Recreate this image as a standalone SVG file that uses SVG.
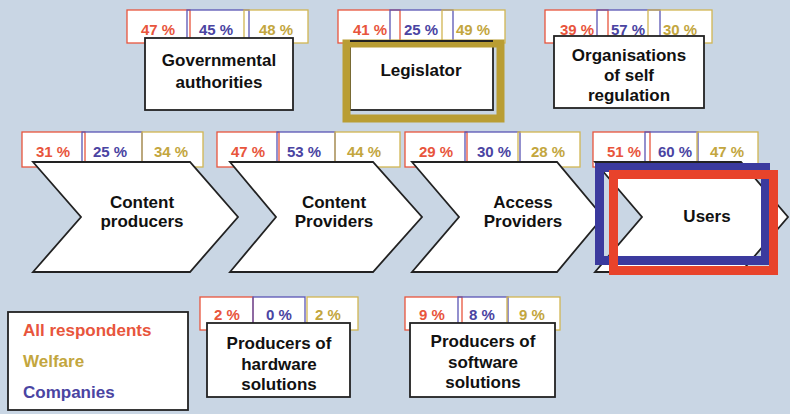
<svg xmlns="http://www.w3.org/2000/svg" width="790" height="414" viewBox="0 0 790 414">
<style>
text{font-family:"Liberation Sans",Arial,sans-serif;font-weight:bold}
.lbl{font-size:17px;fill:#111;text-anchor:middle}
.pct{font-size:15px;text-anchor:middle}
.box{fill:#fff;stroke:#222;stroke-width:1.8}
.chev{fill:#fff;stroke:#222;stroke-width:1.8;stroke-linejoin:miter}
.bg{fill:#fff}
.pr{fill:none;stroke:#e8553c;stroke-width:1.3}
.pb{fill:none;stroke:#5a55b4;stroke-width:1.3}
.pg{fill:none;stroke:#d2b552;stroke-width:1.3}
.tr{fill:#e8553c}
.tb{fill:#4a44a2}
.tg{fill:#c3a63e}
</style>
<rect x="0" y="0" width="790" height="414" fill="#c9d6e4"/>

<g id="governmental">
<rect class="bg" x="127" y="10" width="181" height="33"/>
<rect class="pr" x="127" y="10" width="63" height="33"/>
<rect class="pb" x="187" y="10" width="62" height="33"/>
<rect class="pg" x="244" y="10" width="64" height="33"/>
<text class="pct tr" x="158" y="35">47 %</text>
<text class="pct tb" x="216" y="35">45 %</text>
<text class="pct tg" x="276" y="35">48 %</text>
<rect class="box" x="145" y="38" width="148" height="72"/>
<text class="lbl" x="219" y="66">Governmental</text>
<text class="lbl" x="219" y="88">authorities</text>
</g>

<g id="legislator">
<rect class="bg" x="338" y="10" width="167" height="33"/>
<rect class="pr" x="338" y="10" width="62" height="33"/>
<rect class="pb" x="390" y="10" width="63" height="33"/>
<rect class="pg" x="442" y="10" width="63" height="33"/>
<text class="pct tr" x="370" y="35">41 %</text>
<text class="pct tb" x="421" y="35">25 %</text>
<text class="pct tg" x="473" y="35">49 %</text>
<rect class="box" x="350" y="41" width="143" height="69"/>
<rect x="346.5" y="43.5" width="154" height="75" fill="none" stroke="#b99d33" stroke-width="8"/>
<line x1="350" y1="41" x2="493" y2="41" stroke="#222" stroke-width="1.8"/>
<text class="lbl" x="421" y="76">Legislator</text>
</g>

<g id="self-regulation">
<rect class="bg" x="545" y="10" width="167" height="33"/>
<rect class="pr" x="545" y="10" width="63" height="33"/>
<rect class="pb" x="597" y="10" width="63" height="33"/>
<rect class="pg" x="648" y="10" width="64" height="33"/>
<text class="pct tr" x="577" y="35">39 %</text>
<text class="pct tb" x="628" y="35">57 %</text>
<text class="pct tg" x="680" y="35">30 %</text>
<rect class="box" x="554" y="36" width="150" height="72"/>
<text class="lbl" x="629" y="61">Organisations</text>
<text class="lbl" x="629" y="81">of self</text>
<text class="lbl" x="629" y="101">regulation</text>
</g>

<g id="content-producers">
<rect class="bg" x="22" y="132" width="181" height="35"/>
<rect class="pr" x="22" y="132" width="63" height="35"/>
<rect class="pb" x="82" y="132" width="60" height="35"/>
<rect class="pg" x="142" y="132" width="61" height="35"/>
<text class="pct tr" x="53" y="157">31 %</text>
<text class="pct tb" x="110" y="157">25 %</text>
<text class="pct tg" x="171" y="157">34 %</text>
<polygon class="chev" points="33,162 190,162 238,217 190,272 33,272 81,217"/>
<text class="lbl" x="142" y="208">Content</text>
<text class="lbl" x="142" y="227">producers</text>
</g>

<g id="content-providers">
<rect class="bg" x="217" y="132" width="183" height="35"/>
<rect class="pr" x="217" y="132" width="62" height="35"/>
<rect class="pb" x="277" y="132" width="58" height="35"/>
<rect class="pg" x="335" y="132" width="65" height="35"/>
<text class="pct tr" x="248" y="157">47 %</text>
<text class="pct tb" x="304" y="157">53 %</text>
<text class="pct tg" x="364" y="157">44 %</text>
<polygon class="chev" points="230,162 373,162 422,217 373,272 230,272 276,217"/>
<text class="lbl" x="334" y="208">Content</text>
<text class="lbl" x="334" y="227">Providers</text>
</g>

<g id="access-providers">
<rect class="bg" x="405" y="132" width="175" height="35"/>
<rect class="pr" x="405" y="132" width="62" height="35"/>
<rect class="pb" x="465" y="132" width="55" height="35"/>
<rect class="pg" x="518" y="132" width="62" height="35"/>
<text class="pct tr" x="436" y="157">29 %</text>
<text class="pct tb" x="494" y="157">30 %</text>
<text class="pct tg" x="548" y="157">28 %</text>
<polygon class="chev" points="412,162 557,162 603,217 557,272 412,272 459,217"/>
<text class="lbl" x="523" y="208">Access</text>
<text class="lbl" x="523" y="227">Providers</text>
</g>

<g id="users">
<rect class="bg" x="593" y="132" width="165" height="35"/>
<rect class="pr" x="593" y="132" width="57" height="35"/>
<rect class="pb" x="645" y="132" width="53" height="35"/>
<rect class="pg" x="697" y="132" width="61" height="35"/>
<text class="pct tr" x="624" y="157">51 %</text>
<text class="pct tb" x="675" y="157">60 %</text>
<text class="pct tg" x="727" y="157">47 %</text>
<polygon class="chev" points="595,162 741,162 788,217 741,272 595,272 642,217"/>
<rect x="599.5" y="167.5" width="166" height="93" fill="none" stroke="#3b3a9e" stroke-width="9"/>
<rect x="613.5" y="174.5" width="160" height="96" fill="none" stroke="#e8432b" stroke-width="9"/>
<text class="lbl" x="707" y="222">Users</text>
</g>

<g id="legend">
<rect class="box" x="8" y="312" width="180" height="98"/>
<text x="23" y="336" style="font-size:17px" class="tr">All respondents</text>
<text x="23" y="367" style="font-size:17px" class="tg">Welfare</text>
<text x="23" y="398" style="font-size:17px" class="tb">Companies</text>
</g>

<g id="hardware-producers">
<rect class="bg" x="200" y="297" width="158" height="33"/>
<rect class="pr" x="200" y="297" width="53" height="33"/>
<rect class="pb" x="253" y="297" width="52" height="33"/>
<rect class="pg" x="307" y="297" width="51" height="33"/>
<text class="pct tr" x="227" y="320">2 %</text>
<text class="pct tb" x="279" y="320">0 %</text>
<text class="pct tg" x="328" y="320">2 %</text>
<rect class="box" x="207" y="323" width="143" height="74"/>
<text class="lbl" x="279" y="349">Producers of</text>
<text class="lbl" x="279" y="370">hardware</text>
<text class="lbl" x="279" y="390">solutions</text>
</g>

<g id="software-producers">
<rect class="bg" x="405" y="297" width="155" height="33"/>
<rect class="pr" x="405" y="297" width="57" height="33"/>
<rect class="pb" x="458" y="297" width="50" height="33"/>
<rect class="pg" x="507" y="297" width="53" height="33"/>
<text class="pct tr" x="432" y="320">9 %</text>
<text class="pct tb" x="482" y="320">8 %</text>
<text class="pct tg" x="532" y="320">9 %</text>
<rect class="box" x="410" y="323" width="145" height="74"/>
<text class="lbl" x="483" y="347">Producers of</text>
<text class="lbl" x="483" y="368">software</text>
<text class="lbl" x="483" y="388">solutions</text>
</g>
</svg>
